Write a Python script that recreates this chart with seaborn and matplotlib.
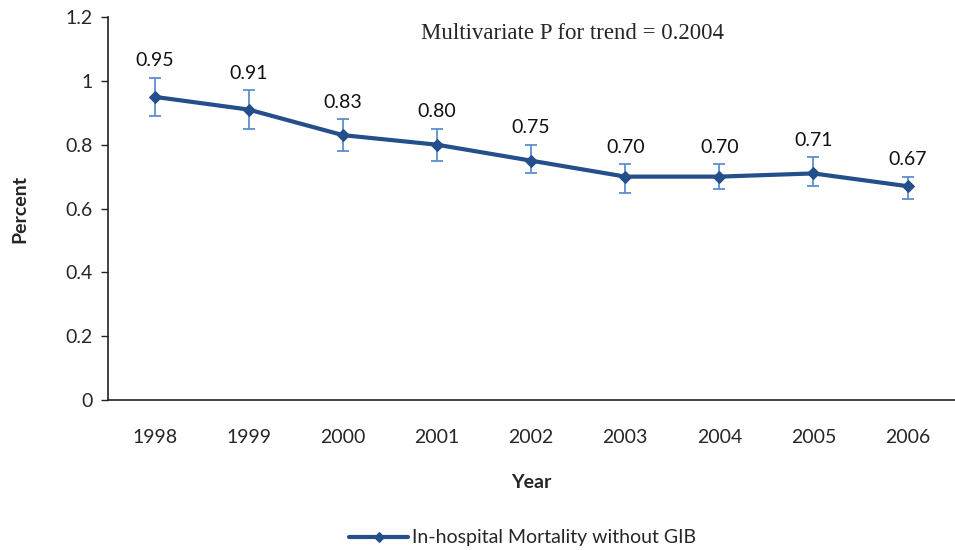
import matplotlib
matplotlib.use("Agg")
import matplotlib.pyplot as plt
import matplotlib.ticker as mticker
import seaborn as sns
import pandas as pd

years = ["1998", "1999", "2000", "2001", "2002", "2003", "2004", "2005", "2006"]
mortality = [0.95, 0.91, 0.83, 0.80, 0.75, 0.70, 0.70, 0.71, 0.67]
ci_low = [0.89, 0.85, 0.78, 0.75, 0.71, 0.65, 0.66, 0.67, 0.63]
ci_high = [1.01, 0.97, 0.88, 0.85, 0.80, 0.74, 0.74, 0.76, 0.70]
value_labels = ["0.95", "0.91", "0.83", "0.80", "0.75", "0.70", "0.70", "0.71", "0.67"]

df = pd.DataFrame({"Year": years, "Percent": mortality, "low": ci_low, "high": ci_high})

sns.set_style("white")
plt.rcParams["font.family"] = ["Lato", "DejaVu Sans"]

line_color = "#23508A"
err_color = "#5B8FD0"

fig = plt.figure(figsize=(9.55, 5.5), dpi=100)
ax = fig.add_axes([0.1126, 0.2727, 0.887, 0.6963])

pos = list(range(len(years)))
ax.errorbar(pos, df["Percent"],
            yerr=[df["Percent"] - df["low"], df["high"] - df["Percent"]],
            fmt="none", ecolor=err_color, elinewidth=1.3, capsize=4, capthick=1.3, zorder=2)
sns.lineplot(x=pos, y=df["Percent"], ax=ax, color=line_color, linewidth=3,
             marker="D", markersize=6, markeredgecolor=line_color,
             label="In-hospital Mortality without GIB", zorder=3)

for i, (hi, lab) in enumerate(zip(ci_high, value_labels)):
    ax.annotate(lab, (i, hi), xytext=(0, 6), textcoords="offset points",
                ha="center", va="bottom", fontsize=14, color="#111111")

ax.text(2.83, 1.15, "Multivariate P for trend = 0.2004",
        fontsize=16.5, family="Liberation Serif", ha="left", va="center")

ax.set_xlim(-0.5, 8.5)
ax.set_ylim(0, 1.2)
ax.set_xticks(pos)
ax.set_xticklabels(years)
ax.set_xticks([p + 0.5 for p in pos[:-1]] + [-0.5], minor=True)
ax.tick_params(axis="x", which="major", length=0, pad=21, labelsize=14)
ax.tick_params(axis="x", which="minor", length=5, width=1, direction="out", color="#222222")
ax.set_yticks([0, 0.2, 0.4, 0.6, 0.8, 1.0, 1.2])
ax.yaxis.set_major_formatter(mticker.FuncFormatter(lambda v, p: f"{v:g}"))
ax.tick_params(axis="y", length=5, width=1, direction="out", color="#222222", labelsize=14, pad=6)
ax.tick_params(left=True, bottom=True)

for s in ["top", "right"]:
    ax.spines[s].set_visible(False)
for s in ["left", "bottom"]:
    ax.spines[s].set_color("#222222")
    ax.spines[s].set_linewidth(1.2)

ax.set_xlabel("Year", fontsize=14, fontweight="bold", labelpad=20)
ax.set_ylabel("Percent", fontsize=14, fontweight="bold", labelpad=26)

ax.legend(loc="center", bbox_to_anchor=(0.49, -0.36), frameon=False, fontsize=14,
          handlelength=3.0, handletextpad=0.2, markerscale=0.8)

fig.savefig("out.png", dpi=100)
